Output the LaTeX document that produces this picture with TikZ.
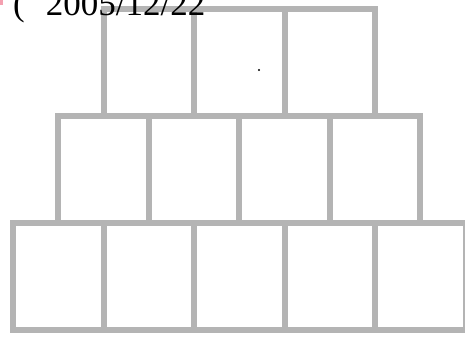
\documentclass[tikz,border=0pt]{standalone}
\usepackage{fontspec}
\setmainfont{Liberation Serif}
\definecolor{boxgray}{HTML}{B4B4B4}
\definecolor{pinkmark}{HTML}{F4A0B0}
\begin{document}
\begin{tikzpicture}[x=1pt,y=-1pt,
  cell/.style={draw=boxgray, line width=6pt, fill=none, minimum width=90.6pt, minimum height=107pt, inner sep=0pt, outer sep=0pt, anchor=north west},
  datetext/.style={font=\fontsize{35}{40}\selectfont, inner sep=0pt, anchor=base west}]
\useasboundingbox (0,0) rectangle (465,338);
% top row
\node[cell] (t1) at (103.5,9) {};
\node[cell] (t2) at (194.1,9) {};
\node[cell] (t3) at (284.7,9) {};
% middle row
\node[cell] (m1) at (58,116) {};
\node[cell] (m2) at (148.6,116) {};
\node[cell] (m3) at (239.2,116) {};
\node[cell] (m4) at (329.8,116) {};
% bottom row
\node[cell] (b1) at (13,223) {};
\node[cell] (b2) at (103.6,223) {};
\node[cell] (b3) at (194.2,223) {};
\node[cell] (b4) at (284.8,223) {};
\node[cell] (b5) at (375.4,223) {};
% text
\node[datetext] (date) at (13,15) {(\hspace{21pt}2005/12/22};
\fill[pinkmark] (0,0) rectangle (3,5);
\fill[black] (259,70) circle (1.2);
\end{tikzpicture}
\end{document}
